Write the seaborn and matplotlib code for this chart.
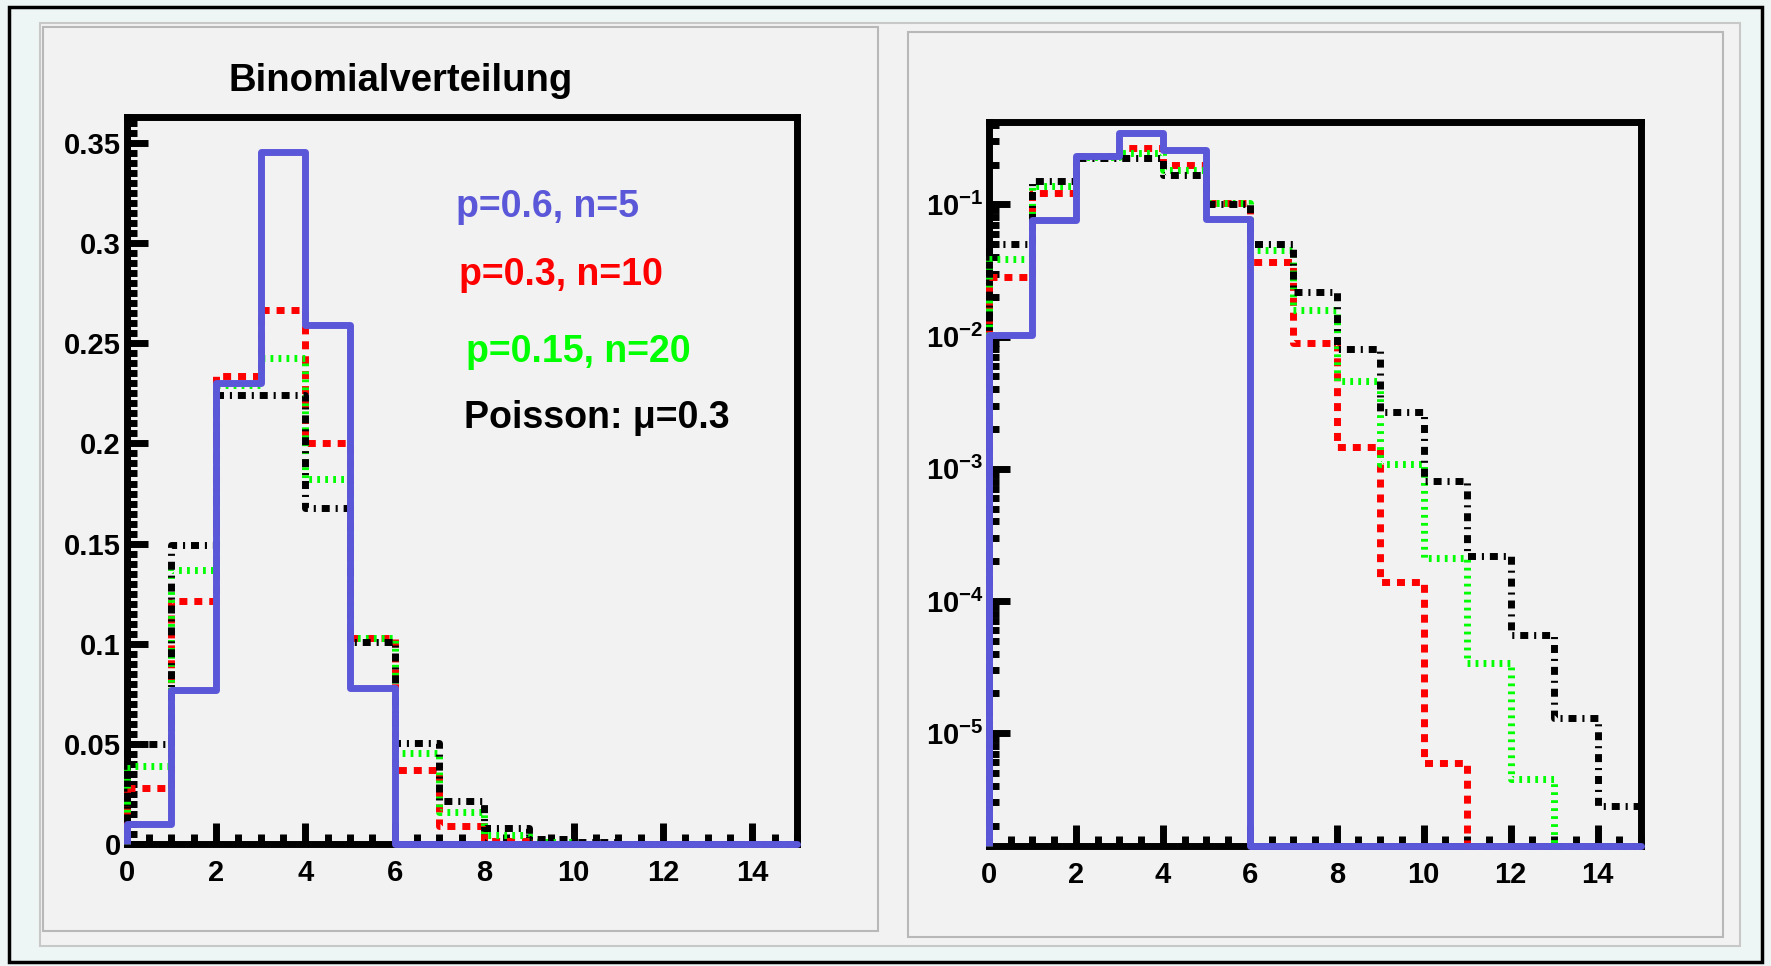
import numpy as np
import matplotlib
matplotlib.use("Agg")
import matplotlib.pyplot as plt
import seaborn as sns
from matplotlib.patches import Rectangle
from matplotlib.ticker import MultipleLocator, LogLocator, FuncFormatter, NullFormatter

# bin values, k = 0..14
k = np.arange(15)
binom_p06_n5 = [0.0102, 0.0768, 0.2304, 0.3456, 0.2592, 0.0778, 0, 0, 0, 0, 0, 0, 0, 0, 0]
binom_p03_n10 = [0.0282, 0.1211, 0.2335, 0.2668, 0.2001, 0.1029, 0.0368, 0.0090,
                 0.00145, 0.000138, 5.9e-6, 0, 0, 0, 0]
binom_p015_n20 = [0.0388, 0.1368, 0.2293, 0.2428, 0.1821, 0.1028, 0.0454, 0.0160,
                  0.00459, 0.00108, 0.00021, 3.4e-5, 4.5e-6, 0, 0]
poisson_mu3 = [0.0498, 0.1494, 0.2240, 0.2240, 0.1680, 0.1008, 0.0504, 0.0216,
               0.0081, 0.0027, 0.00081, 0.00022, 5.5e-5, 1.3e-5, 2.8e-6]

labels = ["p=0.6, n=5", "p=0.3, n=10", "p=0.15, n=20", "Poisson: \u03bc=0.3"]
colors = ["#5b57d9", "#ff0000", "#00ff00", "#000000"]
title = "Binomialverteilung"

sns.set_style("ticks")
plt.rcParams["font.family"] = ["Liberation Sans", "DejaVu Sans"]
plt.rcParams["font.weight"] = "bold"
plt.rcParams["mathtext.fontset"] = "custom"
plt.rcParams["mathtext.rm"] = "Liberation Sans:bold"
plt.rcParams["mathtext.it"] = "Liberation Sans:bold"
plt.rcParams["mathtext.bf"] = "Liberation Sans:bold"

W, H = 1771, 966
fig = plt.figure(figsize=(W / 100, H / 100), dpi=100, facecolor="#eef6f5")


def box(x0, y0, x1, y1, **kw):
    fig.patches.append(Rectangle((x0 / W, 1 - y1 / H), (x1 - x0) / W, (y1 - y0) / H,
                                 transform=fig.transFigure, zorder=-5, **kw))


box(9, 7, 1762, 962, fill=False, ec="black", lw=2.5)
box(40, 23, 1740, 946, fc="#f2f2f2", ec="#c8c8c8", lw=1.5)
box(43, 27, 878, 931, fc="#f2f2f2", ec="#b8b8b8", lw=1.5)
box(908, 32, 1723, 937, fc="#f2f2f2", ec="#b8b8b8", lw=1.5)

ax1 = fig.add_axes([126.5 / W, 1 - 844 / H, 670.5 / W, 727 / H], facecolor="#f2f2f2")
ax2 = fig.add_axes([989 / W, 1 - 846 / H, 652 / W, 724 / H], facecolor="#f2f2f2")

series = [binom_p03_n10, binom_p015_n20, poisson_mu3, binom_p06_n5]
styles = [
    (colors[1], (0, (1.15, 1.0)), 3),
    (colors[2], (0, (0.4, 0.75)), 3.1),
    (colors[3], (0, (1.15, 0.85, 0.3, 0.85)), 3.2),
    (colors[0], "-", 4),
]
ymin_lin, ymax_lin = 0, 0.363
ymin_log, ymax_log = 1.4e-6, 0.42

for ax, lo in [(ax1, ymin_lin), (ax2, ymin_log)]:
    for vals, (col, ls, z) in zip(series, styles):
        v = np.maximum(np.asarray(vals, dtype=float), lo)
        sns.histplot(x=k + 0.5, weights=v, binwidth=1, binrange=(0, 15),
                     element="step", fill=False, color=col, linestyle=ls,
                     linewidth=5, zorder=z, clip_on=False, ax=ax)
        ax.vlines(0, lo, v[0], colors=col, linestyles=ls, linewidth=5,
                  zorder=z, clip_on=False)
    ax.set_xlabel("")
    ax.set_ylabel("")
    ax.set_xlim(0, 15)
    ax.xaxis.set_major_locator(MultipleLocator(2))
    ax.xaxis.set_minor_locator(MultipleLocator(0.5))
    ax.tick_params(which="both", direction="in", width=5, top=False, right=False,
                   colors="black", labelsize=21)
    ax.tick_params(which="major", length=15)
    ax.tick_params(which="minor", length=7)
    ax.tick_params(axis="x", pad=11)
    ax.tick_params(axis="y", pad=4)
    for s in ax.spines.values():
        s.set_visible(True)
        s.set_linewidth(5)
        s.set_color("black")
        s.set_zorder(2.5)

ax1.set_ylim(ymin_lin, ymax_lin)
ax1.yaxis.set_major_locator(MultipleLocator(0.05))
ax1.yaxis.set_minor_locator(MultipleLocator(0.005))
ax1.yaxis.set_major_formatter(FuncFormatter(lambda v, p: f"{v:g}"))

ax2.set_yscale("log")
ax2.set_ylim(ymin_log, ymax_log)
ax2.yaxis.set_major_locator(LogLocator(base=10))
ax2.yaxis.set_minor_locator(LogLocator(base=10, subs=np.arange(2, 10)))
ax2.yaxis.set_minor_formatter(NullFormatter())
ax2.yaxis.set_major_formatter(
    FuncFormatter(lambda v, p: rf"$10^{{{int(round(np.log10(v)))}}}$"))

fig.text(401 / W, 1 - 91 / H, title, ha="center", va="baseline",
         fontsize=27.5, fontweight="bold", color="black")
legend_pos = [(456, 217), (459, 285), (466, 362), (464, 428)]
for (x, y), lab, col in zip(legend_pos, labels, colors):
    fig.text(x / W, 1 - y / H, lab, ha="left", va="baseline",
             fontsize=27, fontweight="bold", color=col)

fig.savefig("out.png", dpi=100, facecolor=fig.get_facecolor())
